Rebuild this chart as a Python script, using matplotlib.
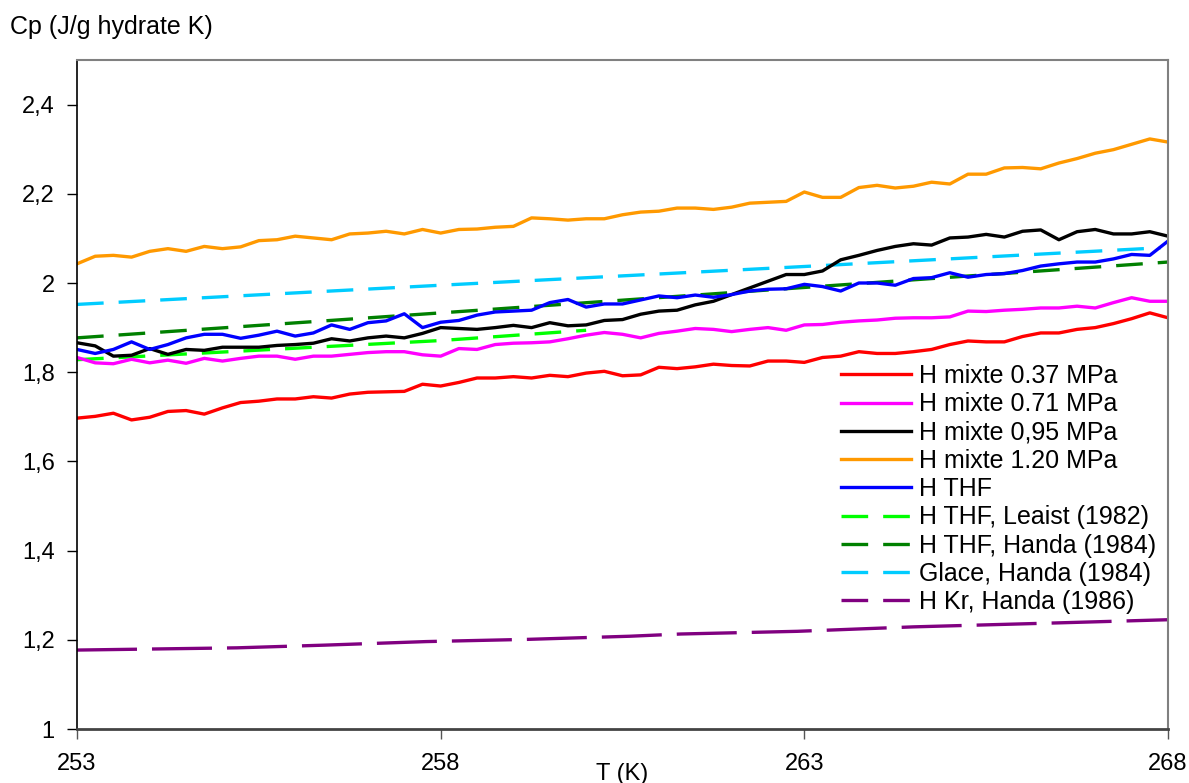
import numpy as np
import matplotlib
matplotlib.use("Agg")
from matplotlib import pyplot as plt

plt.rcParams["font.family"] = ["Liberation Sans", "DejaVu Sans"]

# temperatures where the measured curves were read (every 0.25 K)
T = np.linspace(253, 268, 61)

cp_037 = [1.697, 1.701, 1.708, 1.693, 1.699, 1.712, 1.714, 1.706, 1.720, 1.732,
          1.735, 1.740, 1.740, 1.745, 1.742, 1.751, 1.755, 1.756, 1.757, 1.773,
          1.769, 1.777, 1.787, 1.787, 1.790, 1.787, 1.793, 1.790, 1.798, 1.802,
          1.792, 1.794, 1.811, 1.808, 1.812, 1.818, 1.815, 1.814, 1.825, 1.825,
          1.822, 1.833, 1.836, 1.846, 1.842, 1.842, 1.846, 1.851, 1.862, 1.870,
          1.868, 1.868, 1.880, 1.888, 1.888, 1.896, 1.900, 1.909, 1.920, 1.933, 1.922]
cp_071 = [1.833, 1.821, 1.819, 1.829, 1.821, 1.827, 1.820, 1.831, 1.825, 1.831,
          1.836, 1.836, 1.829, 1.836, 1.836, 1.840, 1.844, 1.846, 1.846, 1.839,
          1.836, 1.853, 1.851, 1.862, 1.865, 1.866, 1.868, 1.875, 1.883, 1.889,
          1.885, 1.877, 1.887, 1.892, 1.898, 1.896, 1.891, 1.896, 1.900, 1.894,
          1.906, 1.907, 1.912, 1.915, 1.917, 1.921, 1.922, 1.922, 1.924, 1.937,
          1.936, 1.939, 1.941, 1.944, 1.944, 1.948, 1.944, 1.956, 1.967, 1.959, 1.959]
cp_095 = [1.866, 1.859, 1.836, 1.838, 1.853, 1.840, 1.851, 1.849, 1.856, 1.856,
          1.856, 1.860, 1.862, 1.865, 1.875, 1.870, 1.877, 1.881, 1.877, 1.887,
          1.900, 1.898, 1.896, 1.900, 1.905, 1.900, 1.911, 1.904, 1.906, 1.916,
          1.918, 1.930, 1.937, 1.939, 1.951, 1.959, 1.974, 1.989, 2.004, 2.019,
          2.019, 2.027, 2.052, 2.062, 2.073, 2.082, 2.088, 2.085, 2.101, 2.103,
          2.109, 2.103, 2.116, 2.119, 2.097, 2.115, 2.120, 2.110, 2.110, 2.115, 2.105]
cp_120 = [2.043, 2.060, 2.062, 2.058, 2.071, 2.077, 2.071, 2.082, 2.077, 2.081,
          2.095, 2.097, 2.105, 2.101, 2.097, 2.110, 2.112, 2.116, 2.110, 2.120,
          2.112, 2.120, 2.121, 2.125, 2.127, 2.146, 2.144, 2.141, 2.144, 2.144,
          2.153, 2.159, 2.161, 2.168, 2.168, 2.165, 2.170, 2.179, 2.181, 2.183,
          2.204, 2.192, 2.192, 2.214, 2.219, 2.213, 2.217, 2.226, 2.222, 2.244,
          2.244, 2.258, 2.259, 2.256, 2.269, 2.279, 2.291, 2.299, 2.311, 2.323, 2.316]
cp_thf = [1.851, 1.842, 1.851, 1.868, 1.851, 1.862, 1.877, 1.885, 1.885, 1.876,
          1.883, 1.892, 1.881, 1.888, 1.906, 1.896, 1.911, 1.915, 1.931, 1.900,
          1.912, 1.916, 1.928, 1.935, 1.937, 1.939, 1.956, 1.963, 1.946, 1.953,
          1.953, 1.962, 1.971, 1.967, 1.973, 1.968, 1.974, 1.982, 1.986, 1.987,
          1.997, 1.992, 1.982, 2.000, 2.000, 1.995, 2.010, 2.012, 2.023, 2.013,
          2.019, 2.021, 2.028, 2.038, 2.043, 2.047, 2.047, 2.054, 2.064, 2.062, 2.094]

# literature curves
T_leaist = [253, 258, 260]
cp_leaist = [1.828, 1.871, 1.894]
T_handa_thf = [253, 258, 263, 268]
cp_handa_thf = [1.877, 1.933, 1.990, 2.047]
T_glace = [253, 258, 263, 267.9]
cp_glace = [1.952, 1.995, 2.037, 2.079]
T_kr = [253, 255.2, 256.4, 257.8, 259.2, 260.6, 261.3, 262.9, 264.5, 266.5, 268]
cp_kr = [1.177, 1.182, 1.188, 1.196, 1.201, 1.208, 1.213, 1.219, 1.229, 1.238, 1.245]

fig = plt.figure(figsize=(11.89, 7.83), dpi=100)
ax = fig.add_axes([77 / 1189, 1 - 729 / 783, 1091 / 1189, 669 / 783])

lw = 2.4
short_dash = (8.0, 4.5)
ax.plot(T_handa_thf, cp_handa_thf, color="#008000", lw=lw, dashes=short_dash, label="H THF, Handa (1984)")
ax.plot(T_glace, cp_glace, color="#00CCFF", lw=lw, dashes=short_dash, label="Glace, Handa (1984)")
ax.plot(T_leaist, cp_leaist, color="#00FF00", lw=lw, dashes=short_dash, label="H THF, Leaist (1982)")
ax.plot(T_kr, cp_kr, color="#800080", lw=lw, dashes=(18, 4.5), label="H Kr, Handa (1986)")
ax.plot(T, cp_037, color="#FF0000", lw=lw, label="H mixte 0.37 MPa")
ax.plot(T, cp_071, color="#FF00FF", lw=lw, label="H mixte 0.71 MPa")
ax.plot(T, cp_095, color="black", lw=lw, label="H mixte 0,95 MPa")
ax.plot(T, cp_120, color="#FF9900", lw=lw, label="H mixte 1.20 MPa")
ax.plot(T, cp_thf, color="#0000FF", lw=lw, label="H THF")

ax.set_xlim(253, 268)
ax.set_ylim(1, 2.5)
ax.set_xticks([253, 258, 263, 268])
ax.set_xticklabels(["253", "258", "263", "268"])
ax.set_yticks([1, 1.2, 1.4, 1.6, 1.8, 2.0, 2.2, 2.4])
ax.set_yticklabels(["1", "1,2", "1,4", "1,6", "1,8", "2", "2,2", "2,4"])
ax.tick_params(axis="both", labelsize=17, direction="out", length=7, width=1)
ax.tick_params(axis="x", pad=10, colors="#555555", labelcolor="black")
ax.tick_params(axis="y", pad=9)

for s in ["top", "right"]:
    ax.spines[s].set_color("#808080")
    ax.spines[s].set_linewidth(1.5)
ax.spines["left"].set_color("black")
ax.spines["left"].set_linewidth(1.2)
ax.spines["bottom"].set_color("#444444")
ax.spines["bottom"].set_linewidth(2)

order = ["H mixte 0.37 MPa", "H mixte 0.71 MPa", "H mixte 0,95 MPa", "H mixte 1.20 MPa",
         "H THF", "H THF, Leaist (1982)", "H THF, Handa (1984)", "Glace, Handa (1984)",
         "H Kr, Handa (1986)"]
handles, labels = ax.get_legend_handles_labels()
lookup = dict(zip(labels, handles))
leg = ax.legend([lookup[l] for l in order], order, loc="upper left",
                bbox_to_anchor=((841 - 78) / 1090, (729 - 364) / 669),
                frameon=False, fontsize=18, handlelength=2.8, handletextpad=0.32,
                labelspacing=0.17, borderpad=0, borderaxespad=0)
leg.get_lines()[-1].set_dashes(short_dash)

fig.text(10 / 1189, 1 - 27 / 783, "Cp (J/g hydrate K)", fontsize=18, ha="left", va="center")
fig.text(622 / 1189, 1 - 774 / 783, "T (K)", fontsize=17, ha="center", va="center")

fig.savefig("out.png", dpi=100)
